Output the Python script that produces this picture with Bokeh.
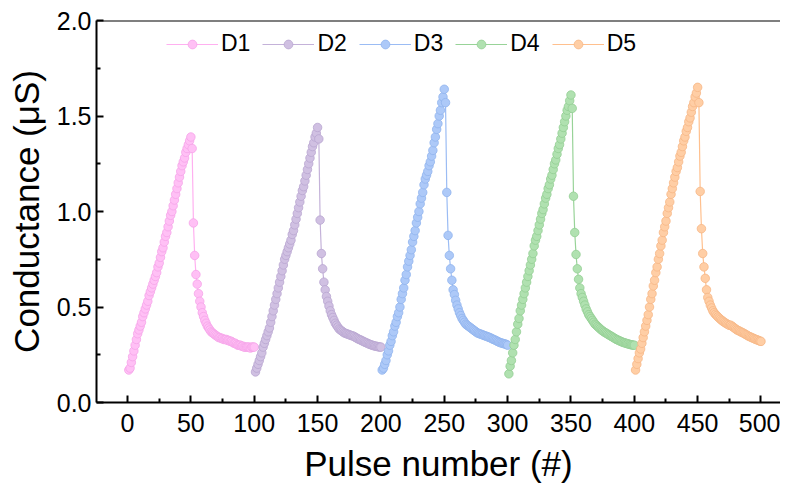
from bokeh.plotting import figure
from bokeh.models import (Legend, LegendItem, FixedTicker, PrintfTickFormatter, Span, Range1d)
from bokeh.embed import file_html
from bokeh.resources import INLINE

# ---------------- data ----------------
pulse = list(range(1, 101))          # pulse index within each device cycle
offsets = [0, 100, 200, 300, 400]    # pulse offset of each device
labels = ["D1", "D2", "D3", "D4", "D5"]

d1 = [0.17, 0.18, 0.21, 0.24, 0.27, 0.30, 0.33, 0.36, 0.38, 0.40,
      0.42, 0.45, 0.47, 0.49, 0.51, 0.53, 0.56, 0.58, 0.60, 0.62,
      0.64, 0.66, 0.68, 0.71, 0.73, 0.76, 0.79, 0.81, 0.84, 0.87,
      0.89, 0.92, 0.95, 0.98, 1.00, 1.03, 1.06, 1.09, 1.12, 1.15,
      1.18, 1.21, 1.24, 1.26, 1.28, 1.31, 1.33, 1.35, 1.37, 1.39,
      1.33, 0.94, 0.77, 0.67, 0.62, 0.57, 0.53, 0.50, 0.47, 0.45,
      0.43, 0.415, 0.40, 0.39, 0.38, 0.37, 0.365, 0.36, 0.355, 0.35,
      0.345, 0.34, 0.34, 0.335, 0.335, 0.33, 0.33, 0.33, 0.325, 0.325,
      0.32, 0.32, 0.315, 0.31, 0.31, 0.305, 0.30, 0.30, 0.30, 0.295,
      0.295, 0.29, 0.29, 0.29, 0.29, 0.29, 0.285, 0.29, 0.29, 0.29]

d2 = [0.16, 0.18, 0.20, 0.22, 0.24, 0.26, 0.29, 0.31, 0.33, 0.35,
      0.37, 0.39, 0.42, 0.45, 0.48, 0.51, 0.54, 0.57, 0.60, 0.63,
      0.66, 0.69, 0.72, 0.75, 0.77, 0.79, 0.81, 0.83, 0.85, 0.88,
      0.90, 0.93, 0.96, 0.99, 1.02, 1.05, 1.08, 1.11, 1.13, 1.16,
      1.19, 1.22, 1.25, 1.28, 1.31, 1.34, 1.36, 1.39, 1.41, 1.44,
      1.38, 0.955, 0.78, 0.70, 0.63, 0.59, 0.555, 0.53, 0.505, 0.48,
      0.46, 0.445, 0.43, 0.415, 0.405, 0.395, 0.385, 0.38, 0.375, 0.37,
      0.365, 0.362, 0.36, 0.357, 0.355, 0.352, 0.35, 0.348, 0.345, 0.34,
      0.337, 0.333, 0.33, 0.327, 0.324, 0.32, 0.317, 0.314, 0.311, 0.308,
      0.305, 0.303, 0.30, 0.298, 0.296, 0.295, 0.293, 0.292, 0.29, 0.29]

d3 = [0.17, 0.18, 0.20, 0.22, 0.25, 0.27, 0.30, 0.32, 0.35, 0.37,
      0.40, 0.42, 0.45, 0.47, 0.50, 0.54, 0.57, 0.60, 0.64, 0.67,
      0.71, 0.74, 0.77, 0.80, 0.84, 0.87, 0.90, 0.94, 0.97, 1.00,
      1.04, 1.07, 1.10, 1.14, 1.17, 1.19, 1.21, 1.24, 1.26, 1.29,
      1.32, 1.36, 1.39, 1.43, 1.46, 1.50, 1.53, 1.57, 1.60, 1.64,
      1.57, 1.10, 0.875, 0.77, 0.70, 0.64, 0.59, 0.565, 0.535, 0.51,
      0.49, 0.47, 0.455, 0.44, 0.43, 0.42, 0.41, 0.405, 0.40, 0.395,
      0.39, 0.385, 0.38, 0.375, 0.37, 0.365, 0.362, 0.36, 0.357, 0.355,
      0.352, 0.35, 0.347, 0.345, 0.342, 0.34, 0.336, 0.333, 0.33, 0.327,
      0.324, 0.32, 0.317, 0.314, 0.312, 0.31, 0.308, 0.306, 0.304, 0.30]

d4 = [0.15, 0.19, 0.22, 0.26, 0.30, 0.33, 0.37, 0.41, 0.44, 0.48,
      0.51, 0.54, 0.57, 0.60, 0.63, 0.66, 0.69, 0.72, 0.75, 0.78,
      0.82, 0.85, 0.87, 0.90, 0.93, 0.96, 0.99, 1.01, 1.04, 1.07,
      1.09, 1.12, 1.14, 1.17, 1.19, 1.22, 1.25, 1.27, 1.30, 1.33,
      1.35, 1.38, 1.41, 1.44, 1.47, 1.50, 1.53, 1.55, 1.58, 1.61,
      1.54, 1.08, 0.89, 0.775, 0.70, 0.645, 0.60, 0.57, 0.55, 0.53,
      0.51, 0.49, 0.475, 0.46, 0.45, 0.44, 0.43, 0.42, 0.41, 0.405,
      0.398, 0.392, 0.386, 0.38, 0.375, 0.37, 0.366, 0.362, 0.358, 0.354,
      0.35, 0.346, 0.342, 0.338, 0.334, 0.33, 0.327, 0.324, 0.321, 0.318,
      0.315, 0.313, 0.311, 0.309, 0.307, 0.305, 0.303, 0.302, 0.30, 0.30]

d5 = [0.17, 0.20, 0.23, 0.26, 0.28, 0.31, 0.34, 0.37, 0.40, 0.43,
      0.46, 0.50, 0.54, 0.57, 0.61, 0.64, 0.68, 0.71, 0.75, 0.78,
      0.82, 0.85, 0.89, 0.92, 0.95, 0.99, 1.02, 1.05, 1.09, 1.12,
      1.15, 1.18, 1.21, 1.23, 1.26, 1.29, 1.31, 1.34, 1.37, 1.39,
      1.42, 1.44, 1.47, 1.49, 1.52, 1.55, 1.57, 1.60, 1.62, 1.65,
      1.57, 1.105, 0.91, 0.78, 0.71, 0.65, 0.59, 0.55, 0.53, 0.51,
      0.495, 0.48, 0.47, 0.462, 0.455, 0.448, 0.442, 0.436, 0.43, 0.425,
      0.42, 0.416, 0.412, 0.408, 0.404, 0.405, 0.40, 0.395, 0.39, 0.385,
      0.38, 0.377, 0.374, 0.37, 0.367, 0.364, 0.36, 0.356, 0.352, 0.348,
      0.345, 0.342, 0.339, 0.336, 0.333, 0.33, 0.328, 0.325, 0.322, 0.32]

series = [d1, d2, d3, d4, d5]

x_ticks = [0, 50, 100, 150, 200, 250, 300, 350, 400, 450, 500]
x_minor = [25, 75, 125, 175, 225, 275, 325, 375, 425, 475]
y_ticks = [0.0, 0.5, 1.0, 1.5, 2.0]
y_minor = [0.25, 0.75, 1.25, 1.75]

fill_colors = ["#FFC0F5", "#D0C0E2", "#ADC9F8", "#B0E1B0", "#FFCEA5"]
edge_colors = ["#F5A3E8", "#B9A6D0", "#90B4EE", "#93CE93", "#F6B685"]
line_colors = ["#FFB0F0", "#C4B2D9", "#9BBCF4", "#98D398", "#FFC08E"]

FONT = "Liberation Sans"

# ---------------- figure ----------------
p = figure(width=780, height=492, output_backend="svg", toolbar_location=None,
           x_range=Range1d(-24.5, 515.4), y_range=Range1d(0.0, 2.0),
           min_border_left=96, min_border_right=0, min_border_top=20,
           min_border_bottom=90)
p.outline_line_color = None
p.grid.grid_line_color = None
p.background_fill_color = "white"
p.border_fill_color = "white"

items = []
for lab, off, ys, fc, ec, lc in zip(labels, offsets, series, fill_colors, edge_colors, line_colors):
    xs = [off + k for k in pulse]
    ln = p.line(xs, ys, line_color=lc, line_width=1.2)
    sc = p.scatter(xs, ys, marker="circle", size=8.5, fill_color=fc,
                   line_color=ec, line_width=0.8)
    items.append(LegendItem(label=lab, renderers=[ln, sc]))

legend = Legend(items=items, orientation="horizontal", location=(70, 345),
                glyph_width=52, glyph_height=22, label_standoff=3, spacing=12,
                padding=0, margin=0, border_line_color=None,
                background_fill_alpha=0, label_text_font=FONT,
                label_text_font_size="23px", label_text_color="black")
p.add_layout(legend)

top = Span(location=2.0, dimension="width", line_color="black", line_width=2)
p.add_layout(top)

xa = p.xaxis[0]
xa.ticker = FixedTicker(ticks=x_ticks, minor_ticks=x_minor)
xa.axis_label = "Pulse number (#)"
ya = p.yaxis[0]
ya.ticker = FixedTicker(ticks=y_ticks, minor_ticks=y_minor)
ya.formatter = PrintfTickFormatter(format="%.1f")
ya.axis_label = "Conductance (\u03bcS)"

for ax in (xa, ya):
    ax.axis_line_width = 2
    ax.axis_line_color = "black"
    ax.major_tick_in = 7
    ax.major_tick_out = 0
    ax.minor_tick_in = 4
    ax.minor_tick_out = 0
    ax.major_tick_line_width = 2
    ax.minor_tick_line_width = 2
    ax.major_tick_line_color = "black"
    ax.minor_tick_line_color = "black"
    ax.major_label_text_font = FONT
    ax.major_label_text_font_size = "25px"
    ax.major_label_text_color = "black"
    ax.axis_label_text_font = FONT
    ax.axis_label_text_font_size = "35px"
    ax.axis_label_text_font_style = "normal"
    ax.axis_label_text_color = "black"

xa.major_label_standoff = 11
xa.axis_label_standoff = 9
ya.major_label_standoff = 5
ya.axis_label_standoff = 8

open("out.html", "w").write(file_html(p, INLINE))
